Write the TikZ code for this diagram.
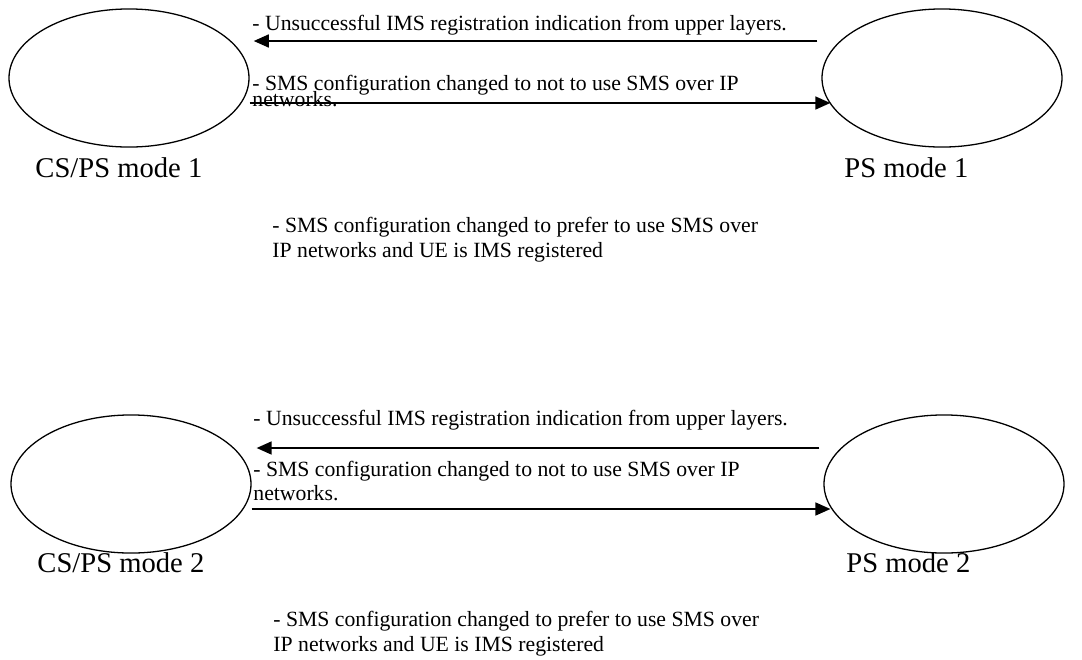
\documentclass[tikz,border=0pt]{standalone}
\usepackage{fontspec}
\setmainfont{Liberation Serif}
\usetikzlibrary{arrows.meta,shapes.geometric}

\begin{document}
\begin{tikzpicture}[
        x=0.465pt, y=-0.465pt,
        mode/.style = {ellipse, draw, line width=0.6pt, minimum width=111.6pt, minimum height=64.2pt, inner sep=0pt},
        modelabel/.style = {anchor=base west, inner sep=0pt, font=\fontsize{13.3}{16}\selectfont},
        cond/.style = {anchor=base west, inner sep=0pt, align=left, font=\fontsize{10.1}{11.6}\selectfont},
        flow/.style = {draw, line width=0.9pt, -{Triangle[length=7pt,width=6pt]}}
    ]
 \useasboundingbox (0,0) rectangle (1082,659);
 % mode 1
 \node[mode] (csps1) at (129,78) {};
 \node[mode] (ps1) at (942,78) {};
 \node[modelabel] (csps1lbl) at (35,177) {CS/PS mode 1};
 \node[modelabel] (ps1lbl) at (844,177) {PS mode 1};
 \coordinate (back1) at (0,41);
 \coordinate (fwd1) at (0,103);
 \draw[flow, shorten <=1.9pt, shorten >=1.9pt] (ps1.west |- back1) -- (csps1.east |- back1);
 \draw[flow, shorten >=-4.2pt] (csps1.east |- fwd1) -- (ps1.west |- fwd1);
 \node[cond] (back1txt) at (252,30) {- Unsuccessful IMS registration indication from upper layers.};
 \node[cond, font={\fontsize{10.1}{7}\selectfont\lineskiplimit=-10pt}] (fwd1txt) at (252,106) {- SMS configuration changed to not to use SMS over IP\\networks.};
 \node[cond] (pref1txt) at (272,257) {- SMS configuration changed to prefer to use SMS over\\IP networks and UE is IMS registered};
 % mode 2
 \node[mode] (csps2) at (131,484) {};
 \node[mode] (ps2) at (944,484) {};
 \node[modelabel] (csps2lbl) at (37,572) {CS/PS mode 2};
 \node[modelabel] (ps2lbl) at (846,572) {PS mode 2};
 \coordinate (back2) at (0,448);
 \coordinate (fwd2) at (0,509);
 \draw[flow, shorten <=1.9pt, shorten >=2.3pt] (ps2.west |- back2) -- (csps2.east |- back2);
 \draw[flow, shorten >=-3.3pt] (csps2.east |- fwd2) -- (ps2.west |- fwd2);
 \node[cond] (back2txt) at (253,425) {- Unsuccessful IMS registration indication from upper layers.};
 \node[cond, font=\fontsize{10.1}{10.7}\selectfont] (fwd2txt) at (253,500) {- SMS configuration changed to not to use SMS over IP\\networks.};
 \node[cond] (pref2txt) at (273,651) {- SMS configuration changed to prefer to use SMS over\\IP networks and UE is IMS registered};
\end{tikzpicture}
\end{document}
